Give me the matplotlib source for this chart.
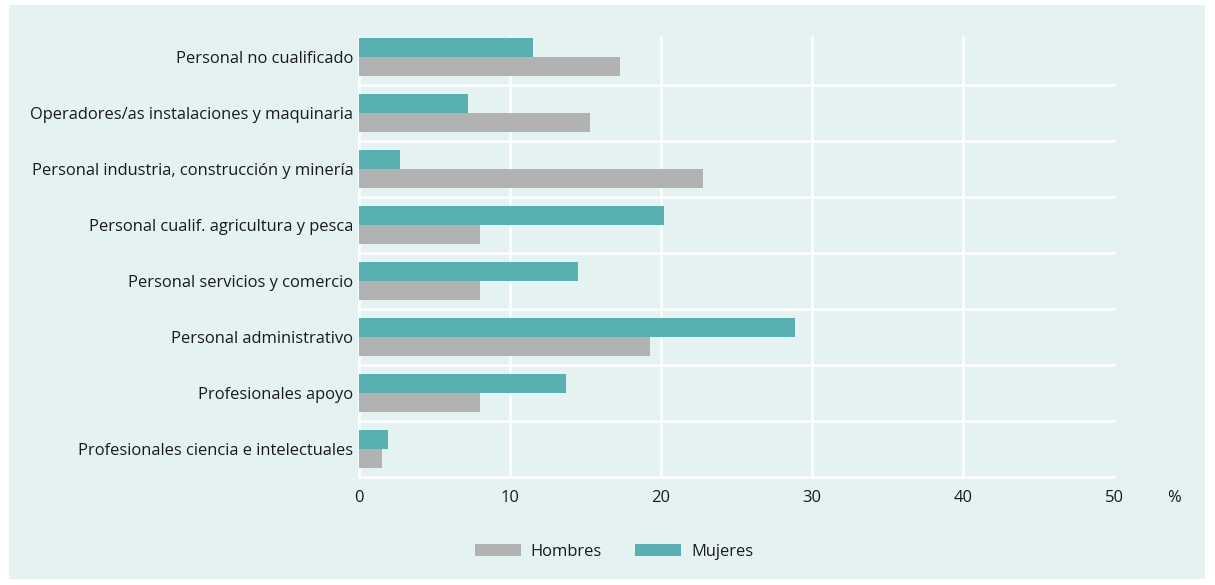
import numpy as np
import matplotlib
matplotlib.use("Agg")
import matplotlib.pyplot as plt
from matplotlib.patches import Patch, Rectangle

plt.rcParams['font.family'] = ['Open Sans', 'DejaVu Sans']

categorias = [
    "Personal no cualificado",
    "Operadores/as instalaciones y maquinaria",
    "Personal industria, construcción y minería",
    "Personal cualif. agricultura y pesca",
    "Personal servicios y comercio",
    "Personal administrativo",
    "Profesionales apoyo",
    "Profesionales ciencia e intelectuales",
]
mujeres = [11.5, 7.2, 2.7, 20.2, 14.5, 28.9, 13.7, 1.9]
hombres = [17.3, 15.3, 22.8, 8.0, 8.0, 19.3, 8.0, 1.5]
xticks = [0, 10, 20, 30, 40, 50]

fondo = "#E4F2F1"
c_muj = "#59B0B1"
c_hom = "#B2B2B3"
texto = "#1a1a1a"
fs = 11.9

fig = plt.figure(figsize=(12.15, 5.85), dpi=100, facecolor="white")
# panel background leaving a thin white border
fig.add_artist(Rectangle((9 / 1215, 6 / 585), 1196 / 1215, 574 / 585,
                         transform=fig.transFigure, facecolor=fondo,
                         edgecolor="none", zorder=-10))

ax = fig.add_axes([0.2955, 0.1846, 0.6214, 0.7521])
ax.set_zorder(1)
ax.patch.set_alpha(0)

y = np.arange(len(categorias))
h = 0.34
ax.barh(y - h / 2, mujeres, height=h, color=c_muj, zorder=3)
ax.barh(y + h / 2, hombres, height=h, color=c_hom, zorder=3)

# white grid: verticals at ticks, separators between categories
for xv in xticks[:-1]:
    ax.axvline(xv, color="white", lw=1.8, zorder=1, clip_on=False)
for yv in y + 0.5:
    ax.axhline(yv, color="white", lw=1.8, zorder=1, clip_on=False)

ax.set_xlim(0, 50)
ax.set_ylim(7.5, -0.357)
ax.set_xticks(xticks)
ax.set_yticks(y)
ax.set_yticklabels(categorias)
ax.tick_params(axis="both", length=0, labelsize=fs, colors=texto)
ax.tick_params(axis="x", pad=9)
ax.tick_params(axis="y", pad=4)
for s in ax.spines.values():
    s.set_visible(False)

fig.text(1174 / 1215, 1 - 498 / 585, "%", fontsize=fs, color=texto,
         ha="center", va="center")

handles = [Patch(facecolor=c_hom, edgecolor="none", label="Hombres"),
           Patch(facecolor=c_muj, edgecolor="none", label="Mujeres")]
fig.legend(handles=handles, loc="center", bbox_to_anchor=(614 / 1215, 1 - 552 / 585),
           ncol=2, frameon=False, fontsize=fs, handlelength=2.8,
           handleheight=0.75, handletextpad=0.6, columnspacing=2.0,
           labelcolor=texto)

fig.savefig("out.png", dpi=100, facecolor="white")
